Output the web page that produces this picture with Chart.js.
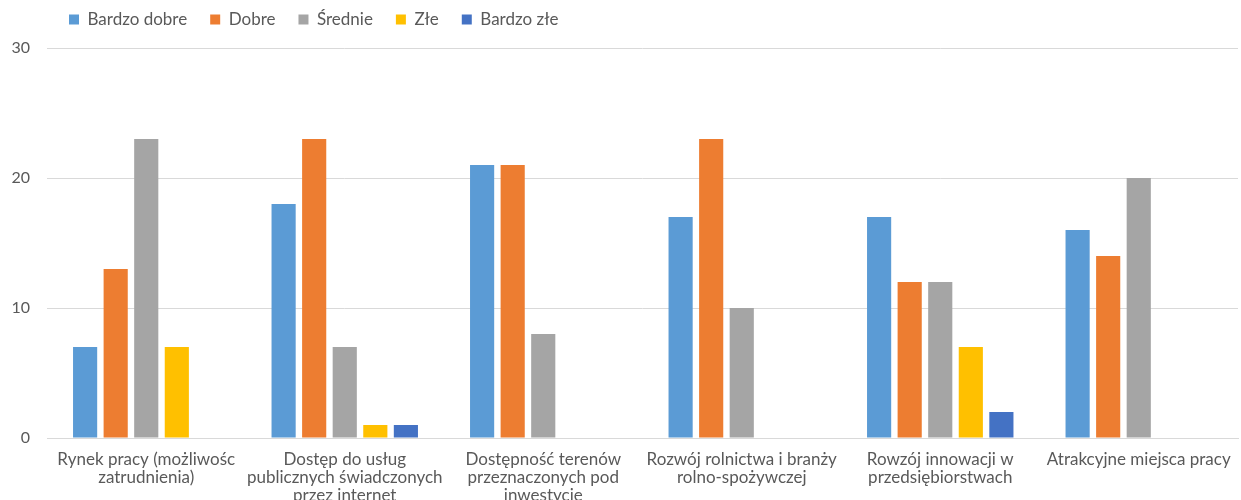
<!DOCTYPE html>
<html>
<head>
<meta charset="utf-8">
<script src="https://cdn.jsdelivr.net/npm/chart.js@4/dist/chart.umd.min.js"></script>
<style>
html,body{margin:0;padding:0;background:#fff;}
#wrap{width:1241px;height:500px;position:relative;}
</style>
</head>
<body>
<div id="wrap"><canvas id="c" width="1241" height="500"></canvas></div>
<script>
const categories = [
  ["Rynek pracy (możliwośc", "zatrudnienia)"],
  ["Dostęp do usług", "publicznych świadczonych", "przez internet"],
  ["Dostępność terenów", "przeznaczonych pod", "inwestycje"],
  ["Rozwój rolnictwa i branży", "rolno-spożywczej"],
  ["Rowzój innowacji w", "przedsiębiorstwach"],
  ["Atrakcyjne miejsca pracy"]
];
const seriesNames = ["Bardzo dobre", "Dobre", "Średnie", "Złe", "Bardzo złe"];
const bardzoDobre = [7, 18, 21, 17, 17, 16];
const dobre = [13, 23, 21, 23, 12, 14];
const srednie = [23, 7, 8, 10, 12, 20];
const zle = [7, 1, 0, 0, 7, 0];
const bardzoZle = [0, 1, 0, 0, 2, 0];
const yTicks = [0, 10, 20, 30];

const colors = ["#5B9BD5", "#ED7D31", "#A5A5A5", "#FFC000", "#4472C4"];
const values = [bardzoDobre, dobre, srednie, zle, bardzoZle];
const FONT = "Lato, 'Open Sans', sans-serif";

const legendShift = {
  id: 'legendShift',
  afterLayout(chart) {
    chart.legend.left = 46;
    chart.legend.top = chart.legend.top - 10;
  }
};

new Chart(document.getElementById('c'), {
  type: 'bar',
  data: {
    labels: categories,
    datasets: seriesNames.map((n, i) => ({
      label: n,
      data: values[i],
      backgroundColor: colors[i],
      borderWidth: 0,
      categoryPercentage: 0.77,
      barPercentage: 0.79
    }))
  },
  options: {
    responsive: false,
    animation: false,
    devicePixelRatio: 1,
    layout: { padding: { top: -2, right: 3, left: 0, bottom: 0 } },
    plugins: {
      legend: {
        position: 'top',
        align: 'start',
        labels: {
          boxWidth: 10, boxHeight: 10, padding: 23,
          color: '#595959',
          font: { family: FONT, size: 17 }
        }
      },
      tooltip: { enabled: false }
    },
    scales: {
      x: {
        grid: { display: false, drawTicks: false },
        border: { display: true, color: '#D9D9D9', width: 1 },
        ticks: {
          color: '#595959', padding: 13, maxRotation: 0, autoSkip: false,
          font: { family: FONT, size: 17, lineHeight: 1.05 }
        },
        afterFit(s) { s.height = 62; s.paddingLeft = 0; s.paddingRight = 0; }
      },
      y: {
        min: 0, max: 30,
        afterBuildTicks(s) { s.ticks = yTicks.map(v => ({ value: v })); },
        grid: { color: '#D9D9D9', drawTicks: false, lineWidth: 1 },
        border: { display: false },
        ticks: {
          color: '#595959', padding: 17,
          font: { family: FONT, size: 16 }
        },
        afterFit(s) { s.width = 47; }
      }
    }
  },
  plugins: [legendShift]
});
</script>
</body>
</html>
